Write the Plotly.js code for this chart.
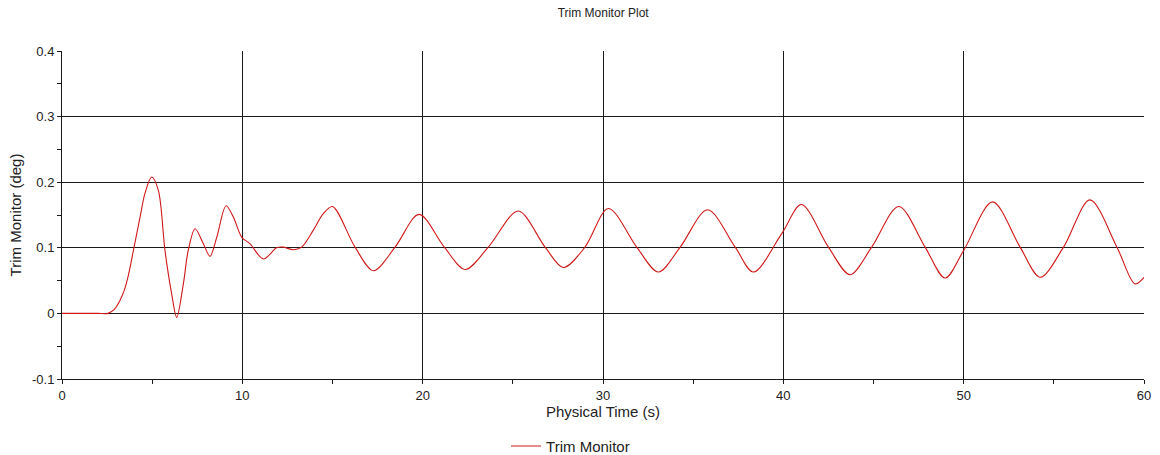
<!DOCTYPE html>
<html>
<head>
<meta charset="utf-8">
<script src="https://cdn.plot.ly/plotly-3.0.1.min.js"></script>
<style>
  html, body { margin: 0; padding: 0; background: #ffffff; }
  #chart { width: 1160px; height: 455px; }
</style>
</head>
<body>
<div id="chart"></div>
<script>
// Physical time (s)
const timeS = [
  0, 1.0, 2.0, 2.55, 2.9, 3.22, 3.45, 3.68, 3.96, 4.33, 4.6, 4.97,
  5.34, 5.71, 6.08, 6.36, 6.73, 7.0, 7.38, 7.84, 8.21, 8.58, 9.1,
  9.5, 9.97, 10.43, 11.17, 11.9, 12.27, 12.83, 13.29, 13.94, 14.49, 15.0,
  16.25, 17.27, 18.47, 19.8, 21.2, 22.35, 23.64, 25.3, 26.79, 27.8,
  29.0, 30.3, 31.87, 33.07, 34.28, 35.8, 37.33, 38.34, 39.92, 41.0,
  42.5, 43.7, 44.9, 46.4, 47.86, 48.97, 50.0, 51.6, 53.13, 54.24,
  55.54, 57.0, 58.5, 59.5, 60.0
];
// Trim Monitor (deg)
const trimDeg = [
  0, 0, 0, 0, 0.006, 0.02, 0.035, 0.058, 0.096, 0.147, 0.183, 0.208,
  0.188, 0.096, 0.03, -0.006, 0.045, 0.096, 0.129, 0.106, 0.087, 0.116, 0.164,
  0.147, 0.116, 0.106, 0.083, 0.1, 0.101, 0.097, 0.101, 0.127, 0.152, 0.163,
  0.101, 0.065, 0.101, 0.151, 0.101, 0.067, 0.101, 0.156, 0.101, 0.070,
  0.101, 0.160, 0.101, 0.063, 0.101, 0.158, 0.101, 0.063, 0.122, 0.166,
  0.101, 0.059, 0.101, 0.163, 0.101, 0.054, 0.096, 0.170, 0.101, 0.055,
  0.101, 0.173, 0.101, 0.045, 0.055
];
const seriesName = 'Trim Monitor';
const xTicks = [0, 10, 20, 30, 40, 50, 60];
const yTicks = [-0.1, 0, 0.1, 0.2, 0.3, 0.4];
const yTickText = ['-0.1', '0', '0.1', '0.2', '0.3', '0.4'];

const FONT = 'Liberation Sans, Arial, sans-serif';

const trace = {
  x: timeS, y: trimDeg, name: seriesName,
  type: 'scatter', mode: 'lines',
  line: { color: '#d01818', width: 1.1, shape: 'spline', smoothing: 0.9 },
  showlegend: true
};

const layout = {
  width: 1160, height: 455,
  paper_bgcolor: '#ffffff', plot_bgcolor: '#ffffff',
  margin: { l: 62, r: 16, t: 51, b: 76, autoexpand: false },
  font: { family: FONT, size: 13, color: '#222222' },
  title: { text: 'Trim Monitor Plot', x: 0.52, xanchor: 'center', y: 0.972, yanchor: 'middle',
           font: { family: FONT, size: 12, color: '#222222' } },
  xaxis: {
    range: [0, 60], tickvals: xTicks, ticktext: xTicks.map(String),
    showgrid: true, gridcolor: '#1a1a1a', gridwidth: 1,
    showline: true, linecolor: '#1a1a1a', linewidth: 1, mirror: false,
    ticks: 'outside', ticklen: 4, tickcolor: '#1a1a1a',
    minor: { dtick: 5, tick0: 0, ticks: 'outside', ticklen: 4, tickcolor: '#1a1a1a', showgrid: false },
    zeroline: false, automargin: false,
    tickfont: { family: FONT, size: 13, color: '#222222' },
    title: { text: 'Physical Time (s)', standoff: 3, font: { family: FONT, size: 15, color: '#222222' } }
  },
  yaxis: {
    range: [-0.1, 0.4], tickvals: yTicks, ticktext: yTickText,
    showgrid: true, gridcolor: '#1a1a1a', gridwidth: 1,
    showline: true, linecolor: '#1a1a1a', linewidth: 1,
    ticks: 'outside', ticklen: 4, tickcolor: '#1a1a1a',
    minor: { dtick: 0.05, tick0: 0, ticks: 'outside', ticklen: 4, tickcolor: '#1a1a1a', showgrid: false },
    zeroline: true, zerolinecolor: '#1a1a1a', zerolinewidth: 1, automargin: false,
    tickfont: { family: FONT, size: 13, color: '#222222' },
    title: { text: 'Trim Monitor (deg)', standoff: 6, font: { family: FONT, size: 15, color: '#222222' } }
  },
  legend: {
    orientation: 'h', x: 0.47, xanchor: 'center', y: -0.205, yanchor: 'middle',
    font: { family: FONT, size: 15, color: '#222222' },
    itemwidth: 30, tracegroupgap: 0, bgcolor: 'rgba(0,0,0,0)'
  },
  showlegend: true
};

Plotly.newPlot('chart', [trace], layout, { displayModeBar: false, staticPlot: true });
</script>
</body>
</html>
